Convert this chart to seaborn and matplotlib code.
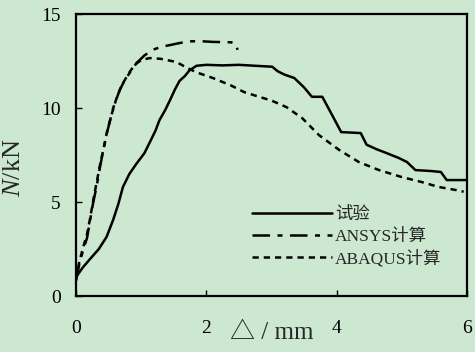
import numpy as np
import pandas as pd
import matplotlib
matplotlib.use('Agg')
import matplotlib.pyplot as plt
import seaborn as sns

# test curve
test_x = [0.0, 0.1, 0.21, 0.35, 0.47, 0.57, 0.65, 0.72, 0.82, 0.93, 1.05, 1.15, 1.22, 1.28,
          1.37, 1.44, 1.52, 1.59, 1.67, 1.74, 1.85, 2.0, 2.25, 2.5, 2.75, 3.01, 3.1, 3.2,
          3.35, 3.5, 3.62, 3.78, 3.92, 4.07, 4.2, 4.37, 4.46, 4.62, 4.77, 4.95, 5.08,
          5.21, 5.45, 5.6, 5.69, 5.98]
test_y = [1.0, 1.5, 1.95, 2.5, 3.15, 4.05, 4.9, 5.8, 6.5, 7.05, 7.6, 8.3, 8.8, 9.35,
          9.9, 10.4, 11.0, 11.45, 11.7, 12.0, 12.25, 12.3, 12.27, 12.3, 12.25, 12.2, 11.95, 11.78,
          11.6, 11.1, 10.6, 10.6, 9.7, 8.72, 8.7, 8.67, 8.05, 7.8, 7.6, 7.35, 7.13,
          6.7, 6.65, 6.6, 6.17, 6.17]

# ANSYS
ansys_x = [0.0, 0.05, 0.11, 0.17, 0.21, 0.26, 0.32, 0.37, 0.41, 0.47, 0.52, 0.57, 0.67,
           0.75, 0.83, 0.93, 1.05, 1.18, 1.3, 1.44, 1.59, 1.75, 1.9, 2.1, 2.38, 2.45, 2.48]
ansys_y = [0.8, 1.7, 2.45, 3.1, 3.9, 4.9, 5.9, 6.9, 7.6, 8.6, 9.3, 10.0, 10.95,
           11.5, 11.9, 12.4, 12.8, 13.1, 13.25, 13.35, 13.46, 13.55, 13.56, 13.52, 13.5, 13.42, 13.1]

# ABAQUS
abaqus_x = [0.0, 0.05, 0.11, 0.17, 0.22, 0.27, 0.32, 0.37, 0.42, 0.48, 0.55, 0.62, 0.7,
            0.8, 0.9, 1.0, 1.13, 1.3, 1.54, 1.7, 1.85, 2.1, 2.38, 2.58, 2.81, 3.0, 3.23,
            3.47, 3.73, 4.04, 4.34, 4.65, 5.0, 5.31, 5.57, 5.83, 5.95]
abaqus_y = [0.9, 1.8, 2.6, 3.3, 4.2, 5.2, 6.1, 7.0, 7.8, 8.8, 9.7, 10.5, 11.2,
            11.8, 12.3, 12.55, 12.66, 12.62, 12.45, 12.15, 11.9, 11.6, 11.2, 10.85, 10.6, 10.4, 10.05,
            9.47, 8.56, 7.77, 7.13, 6.7, 6.33, 6.06, 5.8, 5.64, 5.55]

labels = ['试验', 'ANSYS计算', 'ABAQUS计算']

df = pd.concat([
    pd.DataFrame({'x': test_x, 'y': test_y, 'case': labels[0]}),
    pd.DataFrame({'x': ansys_x, 'y': ansys_y, 'case': labels[1]}),
    pd.DataFrame({'x': abaqus_x, 'y': abaqus_y, 'case': labels[2]}),
])

bg = '#cce8d0'
sns.set_theme(style='ticks')
plt.rcParams['font.family'] = ['Liberation Serif', 'Noto Sans CJK SC', 'DejaVu Sans']
plt.rcParams['mathtext.fontset'] = 'custom'
plt.rcParams['mathtext.it'] = 'Liberation Serif:italic'
plt.rcParams['mathtext.rm'] = 'Liberation Serif'

fig = plt.figure(figsize=(4.75, 3.52), dpi=100, facecolor=bg)
ax = fig.add_axes([0.16, 0.159, 0.823, 0.801])
ax.set_facecolor(bg)

sns.lineplot(data=df, x='x', y='y', hue='case', style='case', estimator=None,
             palette=['black'] * 3, dashes={labels[0]: '', labels[1]: (7, 3, 2, 3), labels[2]: (2.5, 2)},
             linewidth=1.8, ax=ax)

ax.set_xlim(0, 6)
ax.set_ylim(0, 15)
ax.set_xticks([0, 2, 4, 6])
ax.set_yticks([0, 5, 10, 15])
ax.tick_params(direction='in', length=4, width=1, labelsize=14, colors='black')
ax.tick_params(axis='x', pad=17)
ax.tick_params(axis='y', pad=11)
for s in ax.spines.values():
    s.set_visible(True)
    s.set_linewidth(1.6)
    s.set_color('black')

ax.set_xlabel('')
ax.set_ylabel('$N$/kN', fontsize=19)
ax.yaxis.set_label_coords(-0.13, 0.457)
ax.text(0.5, -0.152, '△ / mm', transform=ax.transAxes, ha='center', va='baseline', fontsize=18)

ax.legend(loc='upper left', bbox_to_anchor=(0.45, 0.315), frameon=False, fontsize=12.5,
          handlelength=4.6, handletextpad=0.2, labelspacing=0.3, borderpad=0, borderaxespad=0,
          title=None)

fig.savefig('out.png', dpi=100, facecolor=bg)
